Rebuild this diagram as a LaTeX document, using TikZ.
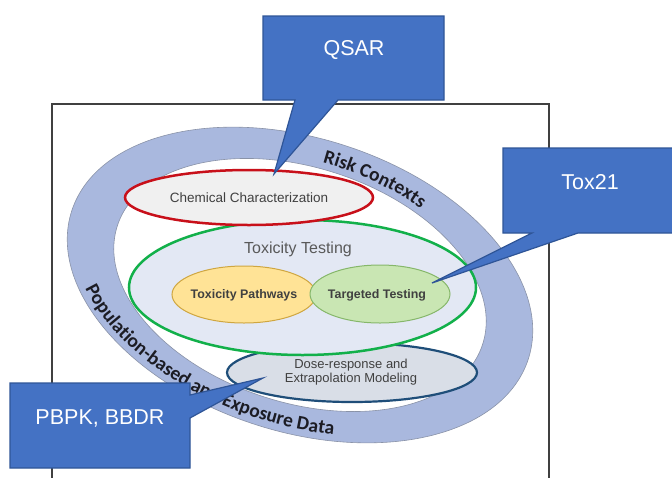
\documentclass[tikz,border=0pt]{standalone}
\usepackage{fontspec}
\setmainfont{Liberation Sans}
\newfontfamily\ringfont{Carlito}
\usetikzlibrary{shapes.geometric,decorations.text}
\definecolor{ringfill}{HTML}{A9B8DE}
\definecolor{ringedge}{HTML}{8A93A8}
\definecolor{ringtext}{HTML}{1C1C24}
\definecolor{framecol}{HTML}{404040}
\definecolor{toxfill}{HTML}{E3E8F4}
\definecolor{toxgreen}{HTML}{12B04A}
\definecolor{chemfill}{HTML}{F0F0F0}
\definecolor{chemred}{HTML}{C8101A}
\definecolor{dosefill}{HTML}{D9DEE7}
\definecolor{doseblue}{HTML}{1F4E79}
\definecolor{yelfill}{HTML}{FFE396}
\definecolor{yeledge}{HTML}{CFA640}
\definecolor{grnfill}{HTML}{C9E6B3}
\definecolor{grnedge}{HTML}{86B76A}
\definecolor{callblue}{HTML}{4472C4}
\definecolor{calledge}{HTML}{2F5597}
\definecolor{txtgray}{HTML}{404040}
\begin{document}
\begin{tikzpicture}[x=1pt,y=1pt,
  ell/.style={ellipse, inner sep=0pt},
  callout/.style={fill=callblue, draw=calledge, line width=1.2pt, line join=miter},
  calltext/.style={text=white, font=\fontsize{21.5}{24}\selectfont, inner sep=0pt},
  smalltext/.style={text=txtgray, inner sep=0pt, align=center},
  ringdeco/.style={decorate, decoration={text along path, text align=center, text color=ringtext,
     text={|\ringfont\bfseries\fontsize{19.5}{19.5}\selectfont|#1}}}
]
\useasboundingbox (0,0) rectangle (672,-477);
\clip (0,0) rectangle (672,-477);
\fill[white] (0,0) rectangle (672,-477);
% frame
\draw[framecol, line width=1.8pt] (52,-104) rectangle (549,-500);
% ring
\begin{scope}[shift={(300,-285)}, rotate=-18]
  \fill[ringfill, even odd rule] (0,0) ellipse[x radius=240, y radius=146.5]
                                 (0,0) ellipse[x radius=192, y radius=117.5];
  \draw[ringedge, line width=0.6pt] (0,0) ellipse[x radius=240, y radius=146.5];
  \draw[ringedge, line width=0.6pt] (0,0) ellipse[x radius=192, y radius=117.5];
  \path[ringdeco={Risk Contexts}] ({200*cos(115)},{123.5*sin(115)})
     arc[start angle=115, end angle=40, x radius=200, y radius=123.5];
  \path[ringdeco={Population-based and Exposure Data}] ({234*cos(185)},{140*sin(185)})
     arc[start angle=185, end angle=307, x radius=234, y radius=140];
\end{scope}
% ellipses
\node[ell, draw=doseblue, fill=dosefill, line width=2.2pt, minimum width=250, minimum height=59] (dose) at (352,-372.5) {};
\node[ell, draw=toxgreen, fill=toxfill, line width=2.5pt, minimum width=347, minimum height=135] (tox) at (302.5,-287.5) {};
\node[ell, draw=chemred, fill=chemfill, line width=2.5pt, minimum width=248, minimum height=55] (chem) at (249,-197.5) {};
\node[ell, draw=yeledge, fill=yelfill, line width=1pt, minimum width=144, minimum height=57] (path) at (244,-294.5) {};
\node[ell, draw=grnedge, fill=grnfill, line width=1pt, minimum width=140, minimum height=58] (targ) at (380,-294) {};
% texts
\node[smalltext, font=\fontsize{13.5}{15}\selectfont] (chemt) at (249,-197.5) {Chemical Characterization};
\node[smalltext, text=black!65, font=\fontsize{16}{18}\selectfont] (toxt) at (298,-249) {Toxicity Testing};
\node[smalltext, font=\bfseries\fontsize{12.4}{14}\selectfont] (patht) at (244,-295) {Toxicity Pathways};
\node[smalltext, font=\bfseries\fontsize{12.4}{14}\selectfont] (targt) at (377,-295) {Targeted Testing};
\node[smalltext, font=\fontsize{13}{14.5}\selectfont] (doset) at (351,-372) {Dose-response and\\Extrapolation Modeling};
% callouts
\path[callout] (263,-16) -- (444,-16) -- (444,-100) -- (338,-100) -- (274,-174) -- (295,-100) -- (263,-100) -- cycle;
\node[calltext] (qsar) at (354,-50) {QSAR};
\path[callout] (503,-148) -- (690,-148) -- (690,-233) -- (578,-233) -- (432,-283) -- (532,-233) -- (503,-233) -- cycle;
\node[calltext] (tox21) at (590,-182) {Tox21};
\path[callout] (10,-383) -- (190,-383) -- (190,-395) -- (263,-378) -- (190,-418) -- (190,-468) -- (10,-468) -- cycle;
\node[calltext] (pbpk) at (100,-418) {PBPK, BBDR};
\end{tikzpicture}
\end{document}
